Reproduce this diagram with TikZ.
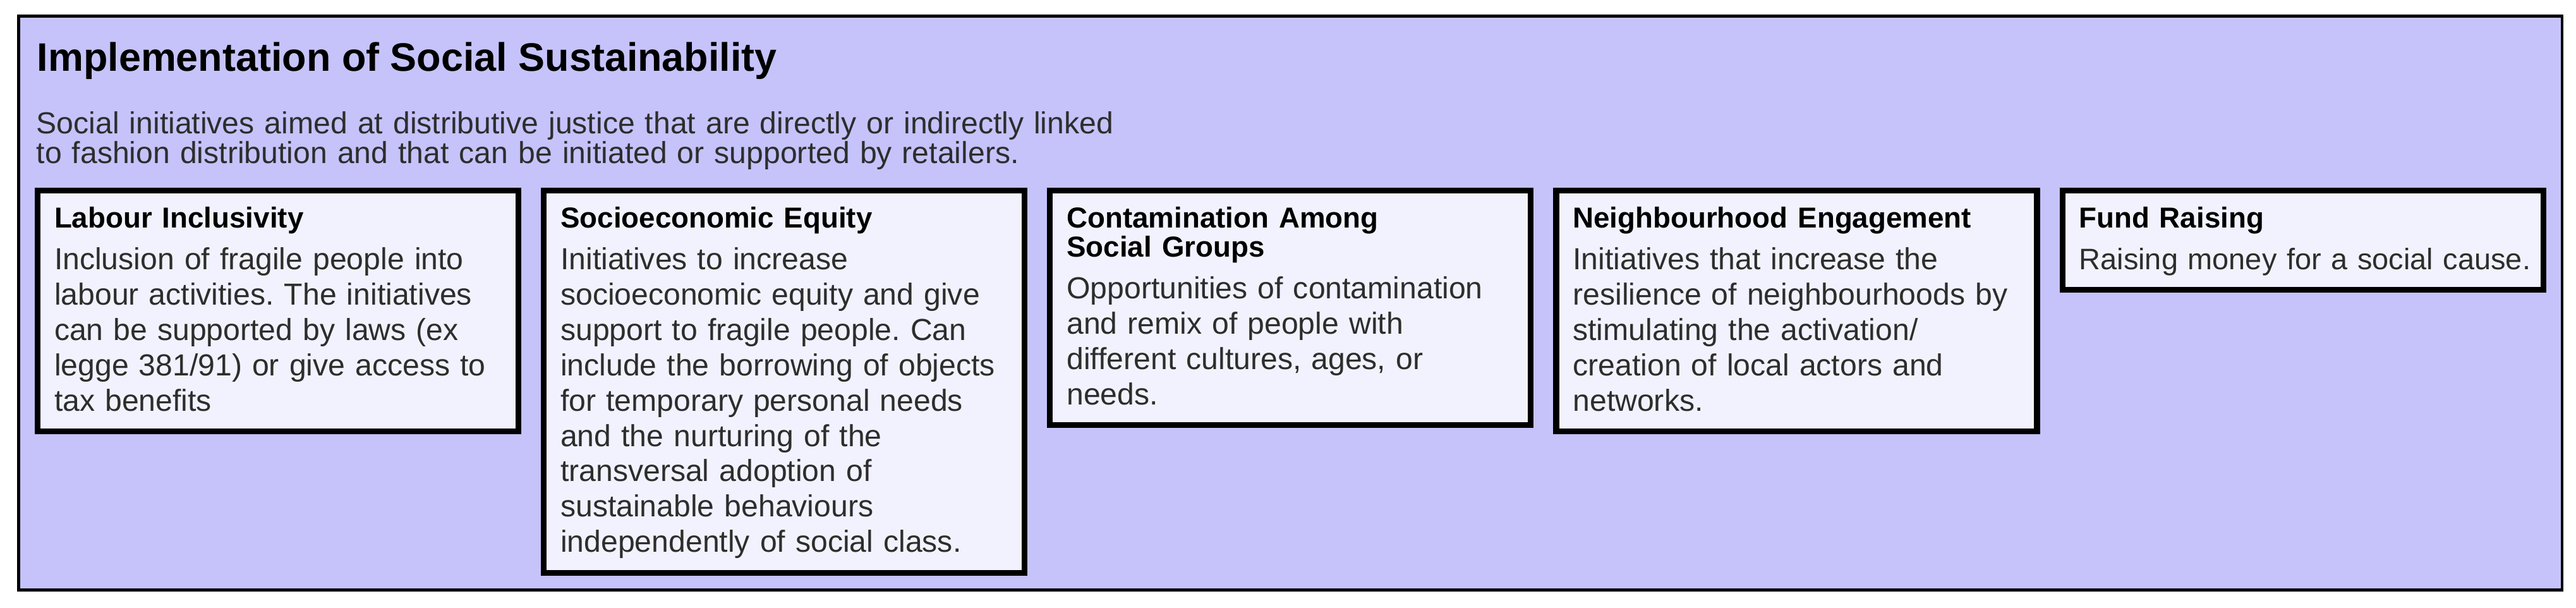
\documentclass[tikz,border=0pt]{standalone}
\usepackage{fontspec}
\setmainfont{Liberation Sans}
\usepackage{xcolor}
\usepackage{tikz}
\usetikzlibrary{positioning}
\definecolor{panelblue}{RGB}{197, 195, 250}
\definecolor{cardwhite}{RGB}{242, 242, 254}
\definecolor{bodygrey}{RGB}{45, 45, 45}
\frenchspacing

% heading line of a card, with a fixed first-line height
\newcommand{\cardtitle}[1]{{\fontsize{13pt}{13.1pt}\selectfont\bfseries\color{black}\rule{0pt}{0.36cm}#1\par}\vspace{0.1cm}}
\newcommand{\cardend}{\rule[-0.1cm]{0pt}{0.1cm}}

\begin{document}
\begin{tikzpicture}[
    card/.style={draw=black, line width=2.6pt, fill=cardwhite, anchor=north west,
        text width=7.08cm, align=left, inner xsep=0.265cm, inner ysep=0.225cm,
        text=bodygrey, font=\fontsize{13.7pt}{15.93pt}\selectfont}
  ]
    \useasboundingbox (0,0) rectangle (40.77,-9.61);

    % The panel
    \filldraw[fill=panelblue, draw=black, line width=1.2pt] (0.295,-0.255) rectangle (40.55,-9.335);

    % Title and lead text
    \node[anchor=base west, inner sep=0pt, font=\fontsize{17.9pt}{20pt}\selectfont\bfseries] (title) at (0.58,-1.12) {Implementation of Social Sustainability};
    \node[anchor=base west, inner sep=0pt, text width=20cm, align=left, text=bodygrey,
        font=\fontsize{13.7pt}{13.4pt}\selectfont] (lead) at (0.57,-2.11)
        {Social initiatives aimed at distributive justice that are directly or indirectly linked\\
         to fashion distribution and that can be initiated or supported by retailers.};

    % The five cards
    \node[card] (labour) at (0.55,-2.97) {\cardtitle{Labour Inclusivity}
        Inclusion of fragile people into\\
        labour activities. The initiatives\\
        can be supported by laws (ex\\
        legge 381/91) or give access to\\
        tax benefits\cardend};

    \node[card, right=0.31cm of labour.north east, anchor=north west] (equity) {\cardtitle{Socioeconomic Equity}
        Initiatives to increase\\
        socioeconomic equity and give\\
        support to fragile people. Can\\
        include the borrowing of objects\\
        for temporary personal needs\\
        and the nurturing of the\\
        transversal adoption of\\
        sustainable behaviours\\
        independently of social class.\cardend};

    \node[card, right=0.31cm of equity.north east, anchor=north west] (contamination) {\cardtitle{Contamination Among\\Social Groups}
        Opportunities of contamination\\
        and remix of people with\\
        different cultures, ages, or\\
        needs.\cardend};

    \node[card, right=0.31cm of contamination.north east, anchor=north west] (neighbourhood) {\cardtitle{Neighbourhood Engagement}
        Initiatives that increase the\\
        resilience of neighbourhoods by\\
        stimulating the activation/\\
        creation of local actors and\\
        networks.\cardend};

    \node[card, right=0.31cm of neighbourhood.north east, anchor=north west,
        font=\fontsize{13.35pt}{15.93pt}\selectfont] (fund) {\cardtitle{Fund Raising}
        \mbox{Raising money for a social cause.}\cardend};
\end{tikzpicture}
\end{document}
